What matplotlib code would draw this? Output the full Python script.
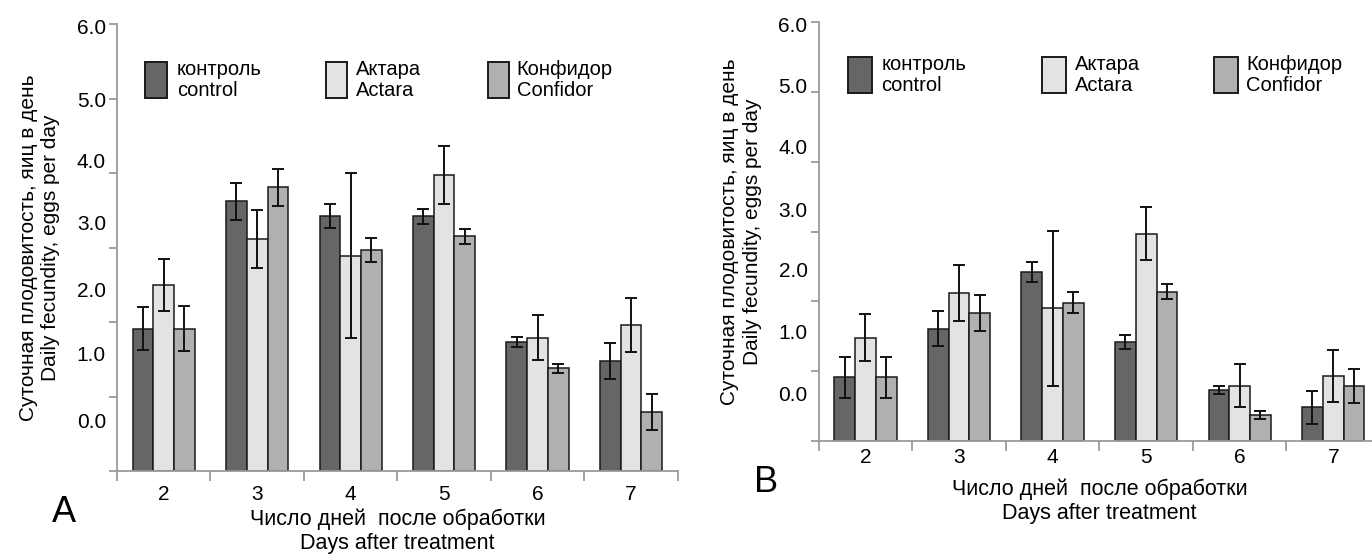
import numpy as np
import matplotlib
matplotlib.use("Agg")
import matplotlib.pyplot as plt
from matplotlib.patches import Rectangle

plt.rcParams['font.family'] = ['Liberation Sans', 'DejaVu Sans']

days = ["2", "3", "4", "5", "6", "7"]
series_names = ["контроль\ncontrol", "Актара\nActara", "Конфидор\nConfidor"]
colors = ["#666666", "#e3e3e3", "#b0b0b0"]
ytick_text = ["0.0", "1.0", "2.0", "3.0", "4.0", "5.0", "6.0"]

# panel A
ctrl_a = [1.91, 3.62, 3.42, 3.42, 1.73, 1.48]
ctrl_a_err = [0.29, 0.25, 0.16, 0.10, 0.065, 0.24]
act_a = [2.50, 3.11, 2.89, 3.97, 1.79, 1.96]
act_a_err = [0.35, 0.39, 1.11, 0.39, 0.30, 0.36]
conf_a = [1.91, 3.81, 2.97, 3.15, 1.38, 0.79]
conf_a_err = [0.30, 0.25, 0.16, 0.10, 0.06, 0.24]

# panel B
ctrl_b = [0.91, 1.61, 2.42, 1.42, 0.73, 0.48]
ctrl_b_err = [0.29, 0.25, 0.15, 0.10, 0.06, 0.24]
act_b = [1.48, 2.12, 1.90, 2.97, 0.79, 0.93]
act_b_err = [0.34, 0.40, 1.11, 0.38, 0.31, 0.37]
conf_b = [0.91, 1.83, 1.98, 2.14, 0.37, 0.79]
conf_b_err = [0.30, 0.26, 0.15, 0.11, 0.06, 0.24]

# where the y labels sit (the labels are offset from the tick marks in the original)
label_pos_a = [0.68, 1.58, 2.44, 3.33, 4.17, 4.99, 5.97]
label_pos_b = [0.68, 1.57, 2.45, 3.32, 4.22, 5.09, 5.96]

W, H = 1372, 557
fig = plt.figure(figsize=(W / 100, H / 100), dpi=100)

axA = fig.add_axes([117 / W, (H - 471) / H, 560.7 / W, 447 / H])
axB = fig.add_axes([818.7 / W, (H - 441) / H, 561.3 / W, 419 / H])

grey = "#9a9a9a"


def panel(ax, vals, errs, label_pos, leg_x, leg_tx, leg_w, leg_y, leg_h,
          xpad, xlab_y, letter, letter_xy):
    x = np.arange(len(days)) + 0.5
    w = 0.222
    for i, (v, e) in enumerate(zip(vals, errs)):
        ax.bar(x + (i - 1) * w, v, w, color=colors[i], edgecolor="#1a1a1a",
               linewidth=1.1, zorder=2)
        ax.errorbar(x + (i - 1) * w, v, yerr=e, fmt="none", ecolor="#111111",
                    elinewidth=1.4, capsize=4, capthick=1.4, zorder=3)
    ax.set_xlim(0, 6)
    ax.set_ylim(0, 6)
    for s in ["top", "right"]:
        ax.spines[s].set_visible(False)
    for s in ["left", "bottom"]:
        ax.spines[s].set_color(grey)
        ax.spines[s].set_linewidth(1.3)
    ax.xaxis.remove_overlapping_locs = False
    ax.yaxis.remove_overlapping_locs = False

    ax.set_xticks(range(7))
    ax.set_xticklabels([])
    ax.set_xticks(x, minor=True)
    ax.set_xticklabels(days, minor=True, fontsize=15)
    ax.tick_params(axis="x", which="major", length=7, width=1.3, color=grey)
    ax.tick_params(axis="x", which="minor", length=0, pad=xpad)

    ax.set_yticks(label_pos)
    ax.set_yticklabels(ytick_text, fontsize=15)
    ax.set_yticks(range(7), minor=True)
    ax.tick_params(axis="y", which="major", length=0, pad=8)
    ax.tick_params(axis="y", which="minor", length=6, width=1.3, color=grey)

    ax.set_ylabel("Суточная плодовитость, яиц в день\nDaily fecundity, eggs per day",
                  fontsize=15, linespacing=1.25)
    ax.yaxis.set_label_coords(-0.101, 0.5)
    ax.set_xlabel("Число дней  после обработки\nDays after treatment",
                  fontsize=15.5, linespacing=1.15, va="top")
    ax.xaxis.set_label_coords(0.5, xlab_y)

    for i in range(3):
        ax.add_patch(Rectangle((leg_x[i], leg_y), leg_w, leg_h,
                               transform=ax.transAxes, facecolor=colors[i],
                               edgecolor="#1a1a1a", linewidth=1.4, clip_on=False))
        ax.text(leg_tx[i], leg_y + leg_h / 2, series_names[i], transform=ax.transAxes,
                fontsize=14.5, va="center", ha="left", linespacing=1.1)

    fig.text(letter_xy[0] / W, 1 - letter_xy[1] / H, letter, fontsize=26,
             ha="center", va="center")


panel(axA, [ctrl_a, act_a, conf_a], [ctrl_a_err, act_a_err, conf_a_err], label_pos_a,
      [0.050, 0.372, 0.661], [0.1065, 0.427, 0.713], 0.039, 0.834, 0.082,
      10, -0.085, "A", (64, 513))
panel(axB, [ctrl_b, act_b, conf_b], [ctrl_b_err, act_b_err, conf_b_err], label_pos_b,
      [0.0527, 0.397, 0.704], [0.112, 0.457, 0.762], 0.043, 0.830, 0.086,
      5, -0.090, "B", (766, 483))

fig.savefig("out.png", dpi=100)
